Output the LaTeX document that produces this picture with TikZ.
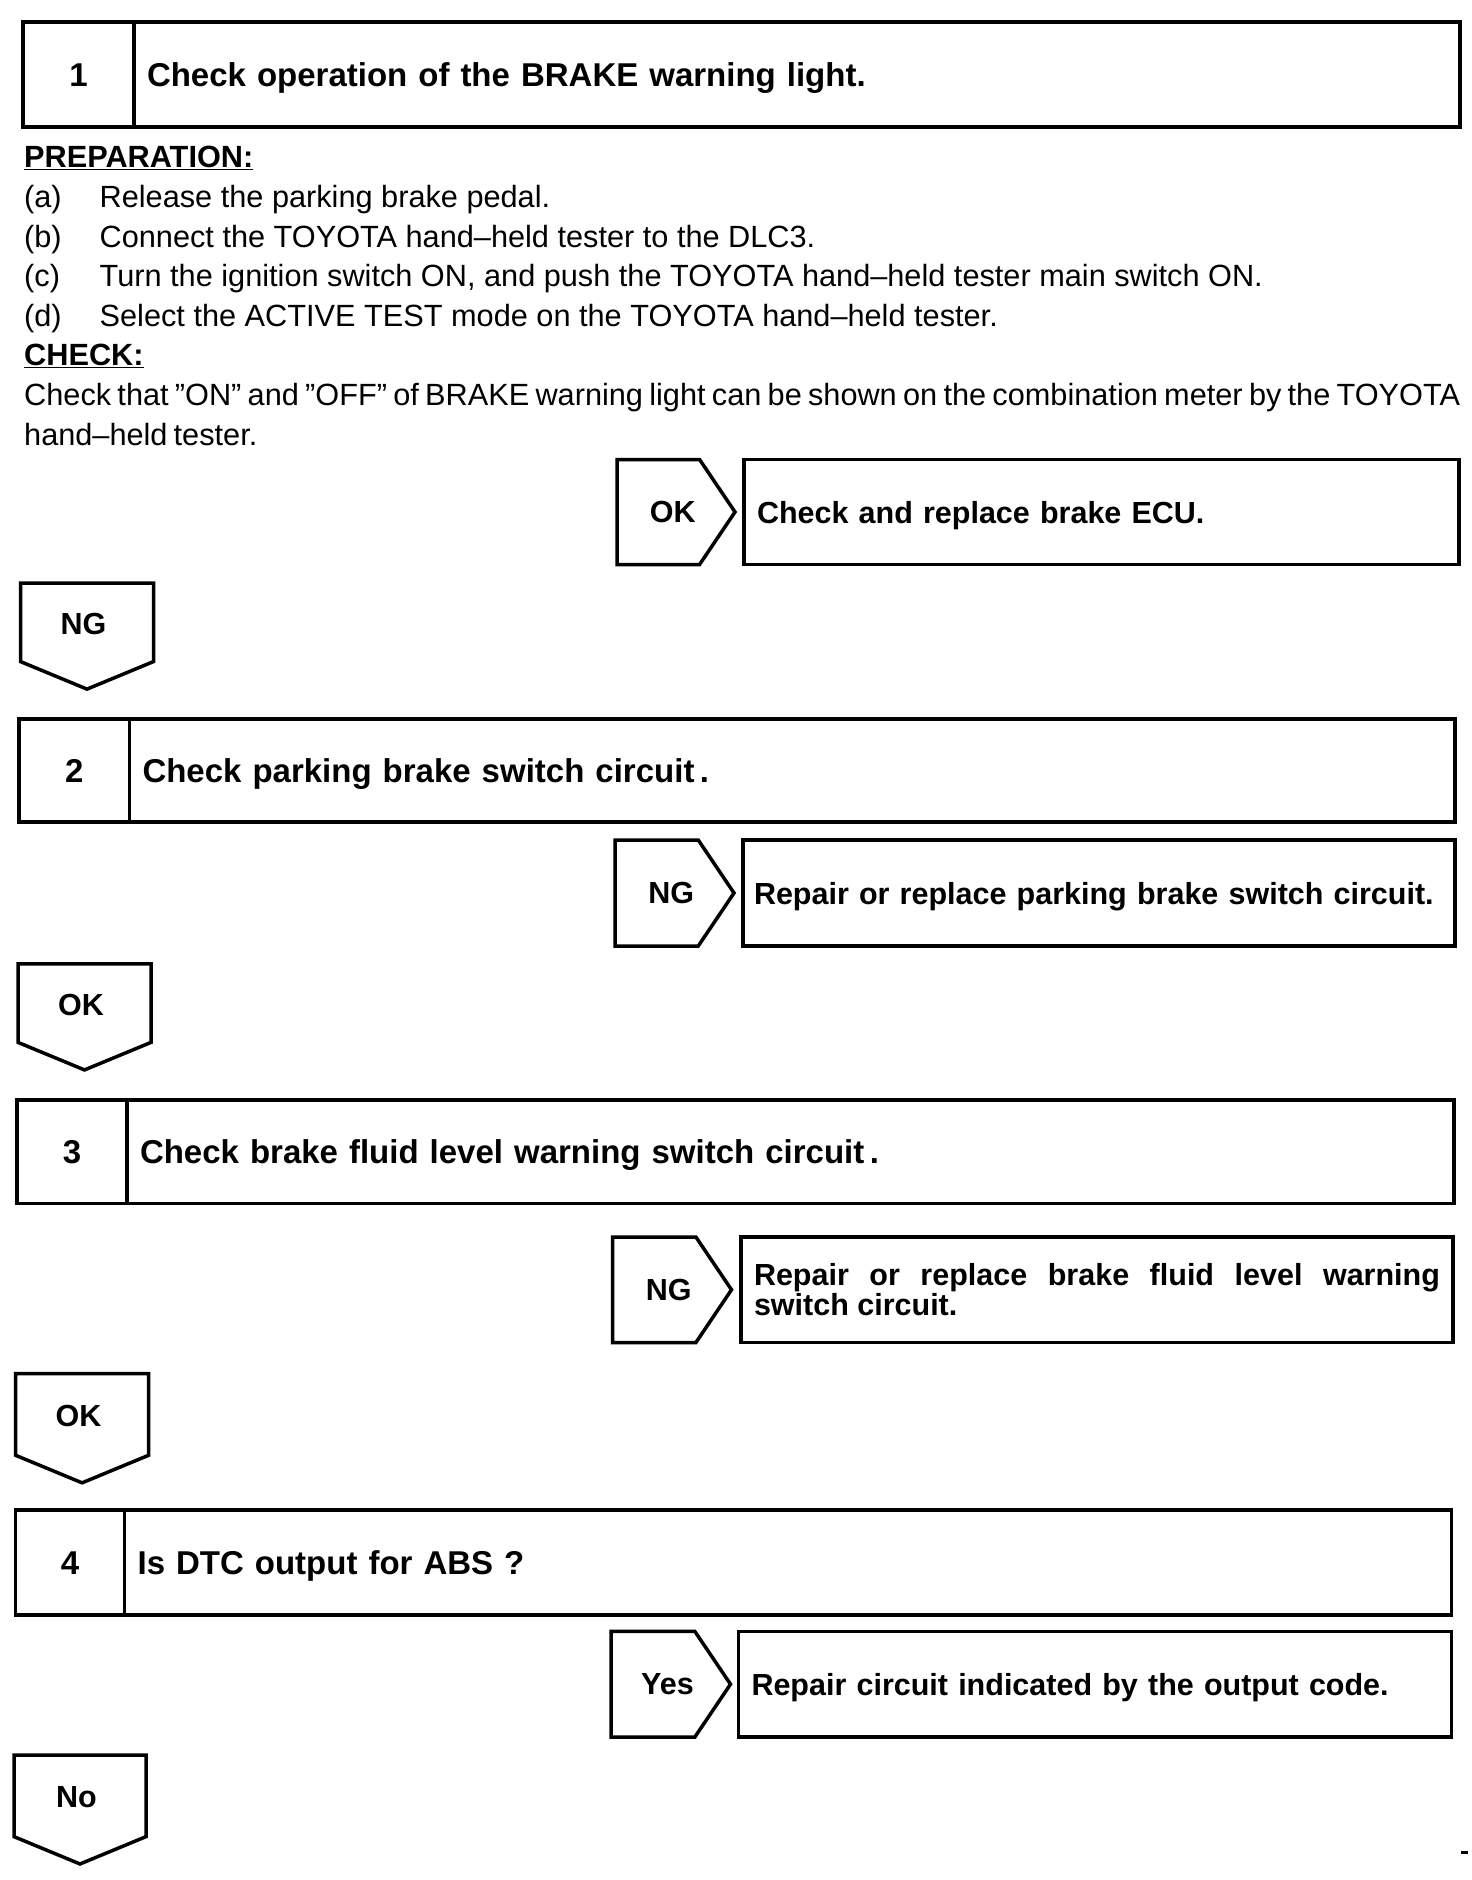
\documentclass[tikz,border=0pt]{standalone}
\usepackage{fontspec}
\setmainfont{Liberation Sans}
\usepackage{tikz}
\usetikzlibrary{shapes.symbols, positioning}

\newcommand{\bodyfont}{\fontsize{30.7}{39.5}\selectfont}
\newcommand{\headfont}{\bfseries\fontsize{33}{36}\selectfont}
\newcommand{\tagfont}{\bfseries\fontsize{30.5}{30}\selectfont}

\begin{document}
\begin{tikzpicture}[x=1pt, y=-1pt,
  stepno/.style={draw, line width=3.5pt, outer sep=0pt, anchor=north west, inner sep=0pt, font=\headfont,
    text height=24pt, text depth=0pt},
  steptitle/.style={draw, line width=3.5pt, outer sep=0pt, inner xsep=13pt, inner ysep=0pt, align=left, font=\headfont,
    text height=24pt, text depth=0pt},
  tagright/.style={signal, signal to=east, signal from=nowhere, signal pointer angle=112,
    draw, line width=3.5pt, outer sep=0pt, anchor=west, inner sep=0pt, font=\tagfont,
    execute at begin node={\hspace*{29pt}}},
  tagdown/.style={signal, signal to=south, signal from=nowhere, signal pointer angle=135,
    draw, line width=3.5pt, outer sep=0pt, anchor=north, inner sep=0pt, font=\tagfont,
    text height=24pt, text depth=0pt, execute at end node={\hspace*{7pt}}},
  fixbox/.style={draw, line width=3.5pt, outer sep=0pt, inner xsep=13pt, inner ysep=0pt, align=left, font=\tagfont},
  fixline/.style={fixbox, text height=22pt, text depth=0pt},
  prephead/.style={anchor=west, inner sep=0pt, font=\bfseries\bodyfont, text height=22pt, text depth=7pt},
  prepline/.style={anchor=west, inner sep=0pt, font=\bodyfont, text height=22pt, text depth=7pt}
]
\useasboundingbox (0,0) rectangle (1472,1880);

% Step 1 - BRAKE warning light
\node[stepno, minimum width=111pt, minimum height=105pt] (n1) at (23,22) {1};
\node[steptitle, right=0pt of n1, minimum height=105pt, text width=1300pt] (t1)
  {Check operation of the BRAKE warning light.};

\node[prephead] (prep) at (24,160) {\underline{PREPARATION:}};
\node[prepline] (pa) at (24,200) {\makebox[75.5pt][l]{(a)}Release the parking brake pedal.};
\node[prepline] (pb) at (24,239.5) {\makebox[75.5pt][l]{(b)}Connect the TOYOTA hand–held tester to the DLC3.};
\node[prepline] (pc) at (24,279) {\makebox[75.5pt][l]{(c)}Turn the ignition switch ON, and push the TOYOTA hand–held tester main switch ON.};
\node[prepline] (pd) at (24,318.5) {\makebox[75.5pt][l]{(d)}Select the ACTIVE TEST mode on the TOYOTA hand–held tester.};
\node[prephead] (chk) at (24,358) {\underline{CHECK:}};
\node[anchor=base west, inner sep=0pt, text width=1436pt, align=justify,
      font={\bodyfont\spaceskip=0.2em plus 0.3em minus 0.05em}] (chkt) at (24,405.5)
  {Check that ”ON” and ”OFF” of BRAKE warning light can be shown on the combination meter by the TOYOTA hand–held tester.};

\node[tagright, minimum width=118pt, minimum height=105pt] (ok1) at (617,512) {OK};
\node[fixline, right=9pt of ok1, minimum height=105pt, text width=689pt] (r1) {Check and replace brake ECU.};
\node[tagdown, minimum width=133pt, minimum height=89.5pt] (ng1) at (87,583) {NG};

% Step 2 - parking brake switch
\node[stepno, minimum width=110.5pt, minimum height=103pt] (n2) at (19,719) {2};
\node[steptitle, right=0pt of n2, minimum height=103pt, text width=1299.5pt] (t2)
  {Check parking brake switch circuit\,.};

\node[tagright, minimum width=119pt, minimum height=106pt] (ng2) at (615,893) {NG};
\node[fixline, right=9pt of ng2, minimum height=106pt, inner xsep=11pt, text width=690pt] (r2)
  {Repair or replace parking brake switch circuit.};
\node[tagdown, minimum width=133pt, minimum height=89.5pt] (ok2) at (84.5,963.8) {OK};

% Step 3 - fluid level switch
\node[stepno, minimum width=110pt, minimum height=103.5pt] (n3) at (17,1100) {3};
\node[steptitle, right=0pt of n3, minimum height=103.5pt, text width=1301pt] (t3)
  {Check brake fluid level warning switch circuit\,.};

\node[tagright, minimum width=119pt, minimum height=105.5pt] (ng3) at (612.5,1289.75) {NG};
\node[fixbox, right=9.5pt of ng3, minimum height=105.5pt, text width=686pt, align=justify] (r3)
  {Repair or replace brake fluid level warning switch circuit.};
\node[tagdown, minimum width=133pt, minimum height=92.5pt] (ok3) at (82.1,1373.7) {OK};

% Step 4 - DTC check
\node[stepno, minimum width=109pt, minimum height=105pt] (n4) at (15.6,1510) {4};
\node[steptitle, right=0pt of n4, minimum height=105pt, text width=1301pt] (t4)
  {Is DTC output for ABS ?};

\node[tagright, minimum width=119.5pt, minimum height=105.6pt] (yes4) at (611,1684.2) {Yes};
\node[fixline, right=8pt of yes4, minimum height=105.6pt, text width=687pt] (r4) {Repair circuit indicated by the output code.};
\node[tagdown, minimum width=132pt, minimum height=91.5pt] (no4) at (80,1755) {No};

\draw[line width=3pt] (1461,1852) -- (1468,1852);
\end{tikzpicture}
\end{document}
